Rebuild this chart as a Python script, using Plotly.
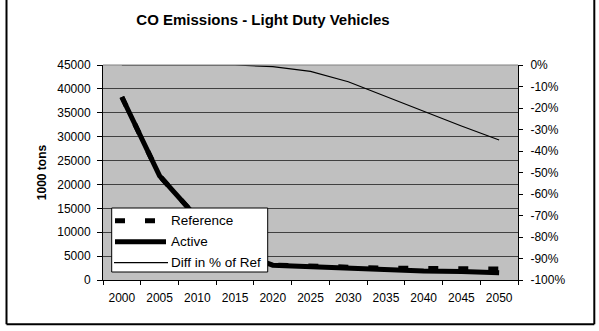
import plotly.graph_objects as go

years = ["2000", "2005", "2010", "2015", "2020", "2025", "2030", "2035", "2040", "2045", "2050"]
reference = [38300, 21800, 13000, 6000, 3130, 2900, 2620, 2470, 2440, 2500, 2300]
active = [38300, 21800, 13000, 6000, 3100, 2800, 2400, 2100, 1900, 1800, 1500]
diff_pct = [0, 0, 0, 0, -0.008, -0.03, -0.078, -0.147, -0.217, -0.284, -0.349]

left_ticks = list(range(0, 45001, 5000))
left_labels = [str(v) for v in left_ticks]
right_ticks = [-i / 10 for i in range(0, 11)]
right_labels = [f"{int(round(v * 100))}%" for v in right_ticks]

FONT = "Liberation Sans, Arial, sans-serif"

fig = go.Figure()
fig.add_trace(go.Scatter(
    x=years, y=reference, name="Reference", mode="lines",
    line=dict(color="black", width=5, dash="10px,20px"),
))
fig.add_trace(go.Scatter(
    x=years, y=active, name="Active", mode="lines",
    line=dict(color="black", width=5),
))
fig.add_trace(go.Scatter(
    x=years, y=diff_pct, name="Diff in % of Ref", mode="lines",
    line=dict(color="black", width=1.2), yaxis="y2",
))

# plot area spans x 103..518, y 65..280 px
L, R, T, B = 103, 518, 65, 280
W, H = 599, 331


def px_x(p):
    return (p - L) / (R - L)


def px_y(p):
    return (B - p) / (B - T)


shapes = [
    # outer chart frame
    dict(type="line", xref="paper", yref="paper", x0=px_x(6.5), x1=px_x(6.5),
         y0=px_y(-5), y1=px_y(324.3), line=dict(color="black", width=2)),
    dict(type="line", xref="paper", yref="paper", x0=px_x(594.3), x1=px_x(594.3),
         y0=px_y(-5), y1=px_y(324.3), line=dict(color="black", width=2)),
    dict(type="line", xref="paper", yref="paper", x0=px_x(6.5), x1=px_x(594.3),
         y0=px_y(324.3), y1=px_y(324.3), line=dict(color="black", width=2)),
    # plot area top edge
    dict(type="line", xref="paper", yref="paper", x0=0, x1=1, y0=1, y1=1,
         line=dict(color="#808080", width=1)),
]

# legend box drawn by hand so the line samples can be as long as the text needs
LEG_X0, LEG_X1, LEG_Y0, LEG_Y1 = 111.7, 267.7, 208, 272
shapes.append(dict(type="rect", xref="paper", yref="paper",
                   x0=px_x(LEG_X0), x1=px_x(LEG_X1), y0=px_y(LEG_Y1), y1=px_y(LEG_Y0),
                   fillcolor="white", line=dict(color="black", width=1), layer="above"))
legend_rows = [
    ("Reference", 220.7, dict(color="black", width=5, dash="10px,20px"), 115, 165),
    ("Active", 241.7, dict(color="black", width=5), 115, 166),
    ("Diff in % of Ref", 262.7, dict(color="black", width=1.2), 114, 168),
]
annotations = []
for label, ry, lstyle, lx0, lx1 in legend_rows:
    shapes.append(dict(type="line", xref="paper", yref="paper",
                       x0=px_x(lx0), x1=px_x(lx1), y0=px_y(ry), y1=px_y(ry),
                       line=lstyle, layer="above"))
    annotations.append(dict(text=label, xref="paper", yref="paper",
                            x=px_x(169), y=px_y(ry), xanchor="left", yanchor="middle",
                            showarrow=False, font=dict(size=13.5, family=FONT)))

fig.update_layout(
    width=W, height=H,
    margin=dict(l=L, r=W - R, t=T, b=H - B, pad=0),
    paper_bgcolor="white",
    plot_bgcolor="#C0C0C0",
    font=dict(family=FONT, size=12, color="black"),
    title=dict(text="<b>CO Emissions - Light Duty Vehicles</b>",
               x=px_x(263), xref="paper", xanchor="center",
               y=1 - 20 / H, yanchor="middle",
               font=dict(size=15, family=FONT)),
    xaxis=dict(
        type="category", range=[-0.5, 10.5],
        showgrid=False, showline=True, linecolor="black", linewidth=1,
        ticks="outside", ticklen=4, tickcolor="black",
        tickson="boundaries", zeroline=False, ticklabelstandoff=7,
        tickfont=dict(size=12),
    ),
    yaxis=dict(
        range=[0, 45000], tickvals=left_ticks, ticktext=left_labels,
        showgrid=True, gridcolor="#404040", gridwidth=1,
        showline=True, linecolor="black", linewidth=1,
        ticks="outside", ticklen=5, tickcolor="black",
        zeroline=False, ticklabelstandoff=4, tickfont=dict(size=12),
        title=dict(text="<b>1000 tons</b>", font=dict(size=12), standoff=8),
    ),
    yaxis2=dict(
        overlaying="y", side="right", range=[-1, 0],
        tickvals=right_ticks, ticktext=right_labels,
        showgrid=False, showline=True, linecolor="black", linewidth=1,
        ticks="outside", ticklen=4, tickcolor="black", zeroline=False,
        ticklabelstandoff=5, tickfont=dict(size=12),
    ),
    showlegend=False,
    shapes=shapes,
    annotations=annotations,
)

fig.write_html("out.html")
